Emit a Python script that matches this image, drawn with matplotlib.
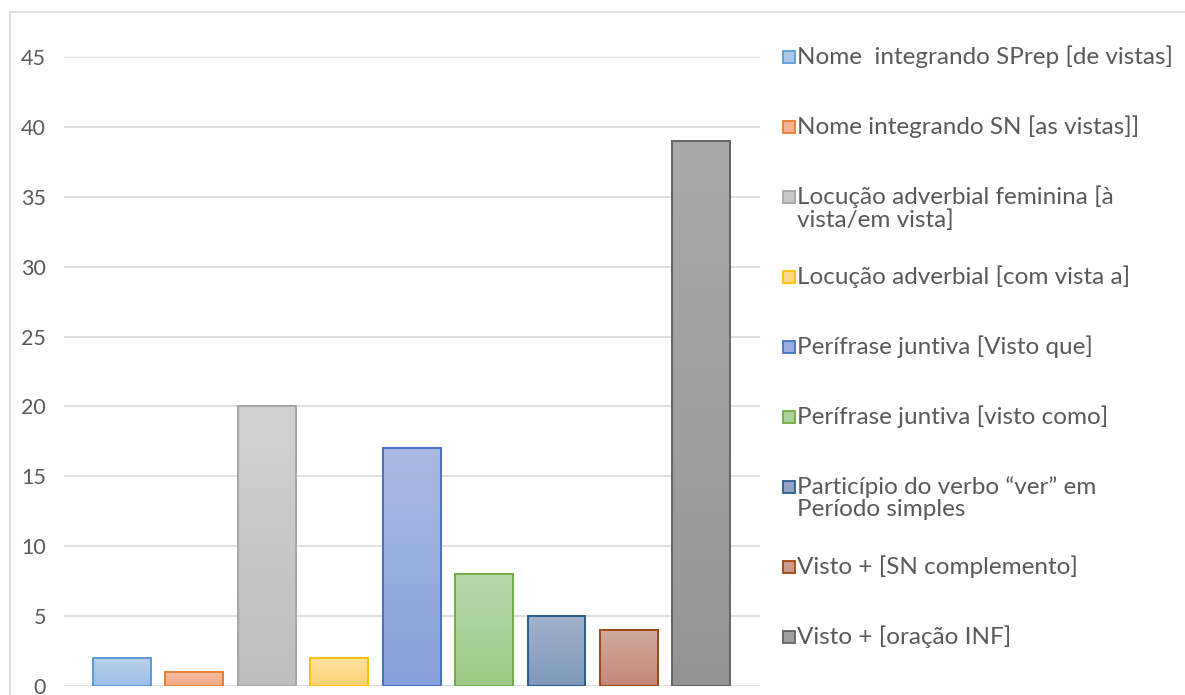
import numpy as np
import matplotlib
matplotlib.use("Agg")
import matplotlib.pyplot as plt
from matplotlib.colors import LinearSegmentedColormap
from matplotlib.patches import Rectangle

# Data
labels = [
    "Nome  integrando SPrep [de vistas]",
    "Nome integrando SN [as vistas]]",
    "Locução adverbial feminina [à\nvista/em vista]",
    "Locução adverbial [com vista a]",
    "Perífrase juntiva [Visto que]",
    "Perífrase juntiva [visto como]",
    "Particípio do verbo “ver” em\nPeríodo simples",
    "Visto + [SN complemento]",
    "Visto + [oração INF]",
]
values = [2, 1, 20, 2, 17, 8, 5, 4, 39]
y_ticks = [0, 5, 10, 15, 20, 25, 30, 35, 40, 45]

# Styling: edge colour, gradient top colour, gradient bottom colour
edge_colors = ["#5B9BD5", "#ED7D31", "#A5A5A5", "#FFC000", "#4472C4",
               "#70AD47", "#255E91", "#9E480E", "#636363"]
top_colors = ["#B7CFEB", "#F6BEA6", "#D2D2D2", "#FFE09E", "#AABAE2",
              "#B8D8AA", "#A2B2CB", "#D2AA9E", "#AAAAAA"]
bottom_colors = ["#9BBFE5", "#F3A784", "#BEBEBE", "#FED376", "#87A0D8",
                 "#9FC986", "#7F97BA", "#C2887A", "#949494"]

FONT = "Lato"
TEXT_COLOR = "#595959"
W, H = 1185, 695

fig = plt.figure(figsize=(W / 100, H / 100), dpi=100)
fig.patch.set_facecolor("white")

# outer chart frame
fig.add_artist(Rectangle((10 / W, -0.05), 1.2, 1 - 12 / H + 0.05,
                         transform=fig.transFigure, fill=False,
                         edgecolor="#D9D9D9", linewidth=1.2))

ax = fig.add_axes([64 / W, 1 - 686 / H, (760 - 64) / W, (686 - 57) / H])
x = np.arange(len(values))
bars = ax.bar(x, values, width=0.8, color="none", edgecolor=edge_colors,
              linewidth=1.4, zorder=3)

grad = np.linspace(0, 1, 256).reshape(-1, 1)
for b, c_top, c_bot in zip(bars, top_colors, bottom_colors):
    cmap = LinearSegmentedColormap.from_list("g", [c_bot, c_top])
    x0, w, h = b.get_x(), b.get_width(), b.get_height()
    im = ax.imshow(grad, extent=[x0, x0 + w, 0, h], origin="lower",
                   aspect="auto", cmap=cmap, zorder=2, interpolation="bilinear")
    im.set_clip_path(b)

ax.set_xlim(-0.8, len(values) - 1 + 0.81)
ax.set_ylim(0, 45)
ax.set_yticks(y_ticks)
ax.set_xticks([])
ax.grid(axis="y", color="#D9D9D9", linewidth=1.2, zorder=0)
for s in ax.spines.values():
    s.set_visible(False)
ax.tick_params(axis="y", length=0, pad=13, labelsize=15.5, labelcolor=TEXT_COLOR)
for t in ax.get_yticklabels():
    t.set_fontfamily(FONT)

# legend, one row per series
y = 57
for lab, ec, ct, cb in zip(labels, edge_colors, top_colors, bottom_colors):
    fc = LinearSegmentedColormap.from_list("m", [cb, ct])(0.5)
    sq = 12
    fig.add_artist(Rectangle((783 / W, 1 - (y + sq / 2) / H), sq / W, sq / H,
                             transform=fig.transFigure, facecolor=fc,
                             edgecolor=ec, linewidth=1.3))
    lines = lab.split("\n")
    for k, line in enumerate(lines):
        fig.text(797 / W, 1 - (y + 23 * k) / H, line, fontsize=17.5,
                 family=FONT, color=TEXT_COLOR, va="center", ha="left")
    y += 70 + (10 if len(lines) > 1 else 0)

fig.savefig("out.png", dpi=100, facecolor="white")
